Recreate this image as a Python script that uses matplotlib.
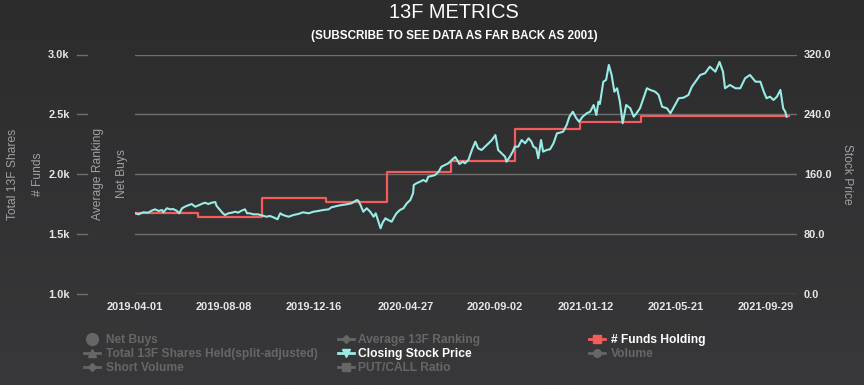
import matplotlib
matplotlib.use("Agg")
import matplotlib.pyplot as plt
import matplotlib.transforms as mtransforms
from matplotlib.lines import Line2D
from matplotlib.colors import LinearSegmentedColormap
import numpy as np
import pandas as pd

plt.rcParams['font.family'] = ['Liberation Sans', 'DejaVu Sans']

# ---------------- data ----------------
title = "13F METRICS"
subtitle = "(SUBSCRIBE TO SEE DATA AS FAR BACK AS 2001)"

start_date = "2019-04-01"
# closing price samples: days after start_date, and price
price_day_offsets = [
    0, 5, 12, 19, 24, 29, 34, 39, 41, 46, 51, 55, 60, 64, 68, 72, 77, 82, 87, 92,
    96, 101, 106, 111, 116, 118, 123, 127, 130, 135, 140, 145, 149, 154, 159, 162,
    166, 171, 178, 186, 190, 195, 200, 206, 210, 214, 222, 229, 236, 243, 251, 258,
    265, 272, 280, 284, 292, 299, 306, 313, 321, 323, 326, 330, 335, 340, 345, 348,
    352, 355, 358, 362, 366, 371, 375, 378, 383, 388, 393, 398, 402, 403, 407, 412,
    417, 421, 424, 429, 434, 439, 443, 448, 453, 458, 463, 469, 474, 477, 482, 487,
    492, 496, 501, 506, 511, 516, 521, 525, 530, 535, 537, 542, 546, 549, 554, 559,
    564, 569, 573, 576, 580, 583, 587, 590, 595, 600, 605, 610, 614, 619, 624, 628,
    633, 638, 642, 647, 653, 658, 663, 667, 670, 672, 677, 681, 685, 689, 693, 697,
    701, 705, 710, 716, 721, 725, 730, 735, 740, 745, 752, 757, 762, 769, 774, 778,
    786, 793, 800, 805, 812, 817, 824, 831, 839, 845, 850, 853, 860, 868, 875, 882,
    889, 897, 904, 909, 913, 918, 923, 928, 933, 937, 940, 942,
]
price_values = [
    107.4, 106.0, 108.7, 108.2, 110.9, 112.7, 110.5, 111.8, 108.7, 114.1, 112.7, 113.1,
    110.9, 107.4, 114.1, 116.2, 118.1, 119.8, 116.2, 118.1, 119.8, 121.6, 119.8, 121.6,
    122.5, 117.2, 111.8, 107.4, 105.1, 107.4, 108.2, 109.5, 108.2, 110.9, 112.7, 107.4,
    107.4, 106.0, 106.0, 103.8, 102.8, 103.8, 102.0, 99.4, 107.4, 105.1, 102.8, 105.1,
    106.5, 108.7, 107.4, 109.5, 110.5, 111.8, 112.7, 115.4, 117.2, 118.5, 119.4, 120.8,
    125.2, 123.9, 118.5, 109.5, 114.1, 109.5, 102.8, 107.4, 96.1, 87.3, 94.8, 100.7,
    98.4, 96.1, 102.8, 107.4, 111.8, 114.1, 120.8, 125.2, 134.2, 145.3, 147.6, 149.7,
    152.0, 149.7, 156.4, 157.3, 158.7, 163.1, 169.8, 172.1, 174.3, 178.8, 182.8, 173.4,
    176.5, 174.3, 178.8, 192.1, 203.3, 194.4, 192.1, 196.6, 201.1, 205.5, 212.2, 192.1,
    187.7, 183.2, 176.5, 183.2, 189.9, 196.6, 196.6, 205.5, 201.1, 207.8, 203.3, 196.6,
    194.4, 181.0, 205.5, 189.9, 192.1, 193.1, 201.1, 214.5, 215.3, 216.7, 225.6, 236.7,
    243.4, 234.6, 230.0, 236.7, 241.3, 243.4, 252.4, 239.0, 256.8, 253.7, 283.6, 285.9,
    306.0, 292.6, 270.2, 274.8, 256.8, 227.9, 252.4, 248.0, 236.7, 241.3, 248.0, 261.4,
    274.8, 272.5, 270.2, 265.8, 250.1, 248.0, 241.3, 248.0, 261.4, 262.2, 265.8, 276.9,
    285.9, 292.6, 294.8, 303.7, 297.0, 310.0, 297.0, 274.8, 279.2, 274.8, 274.8, 288.2,
    292.6, 283.6, 283.6, 270.2, 261.4, 263.5, 259.1, 263.5, 272.5, 248.0, 243.4, 236.7,
]

funds_dates = ["2019-04-01", "2019-07-01", "2019-10-01", "2020-01-02", "2020-03-31",
               "2020-07-01", "2020-10-01", "2021-01-04", "2021-04-01", "2021-11-01"]
funds_values = [1671, 1643, 1797, 1763, 2014, 2111, 2377, 2438, 2485, 2485]

x_tick_dates = ["2019-04-01", "2019-08-08", "2019-12-16", "2020-04-27",
                "2020-09-02", "2021-01-12", "2021-05-21", "2021-09-29"]
x_end_date = "2021-11-13"

left_ticks = [1000, 1500, 2000, 2500, 3000]
left_tick_labels = ["1.0k", "1.5k", "2.0k", "2.5k", "3.0k"]
right_ticks = [0, 80, 160, 240, 320]
right_tick_labels = ["0.0", "80.0", "160.0", "240.0", "320.0"]

left_axis_titles = ["Total 13F Shares", "# Funds", "Average Ranking", "Net Buys"]
right_axis_title = "Stock Price"

# legend entries in reading order (row-wise, 3 per row)
legend_labels = ["Net Buys", "Average 13F Ranking", "# Funds Holding",
                 "Total 13F Shares Held(split-adjusted)", "Closing Stock Price", "Volume",
                 "Short Volume", "PUT/CALL Ratio"]
legend_markers = ["o", "D", "s", "^", "v", "o", "D", "s"]
legend_visible = [False, False, True, False, True, False, False, False]

# ---------------- style ----------------
W, H = 864, 385
BG_TOP = "#2c2c2d"
BG_BOT = "#38383a"
GRID = "#6e6e6e"
TICK_COL = "#e6e6e6"
AXTITLE_COL = "#a0a0a0"
HIDDEN = "#666666"
RED = "#f45b5b"
CYAN = "#98ece6"

fig = plt.figure(figsize=(W / 100, H / 100), dpi=100)

# background gradient
bg = fig.add_axes([0, 0, 1, 1], zorder=-10)
grad = np.linspace(0, 1, 256).reshape(-1, 1)
cmap = LinearSegmentedColormap.from_list("bg", [BG_TOP, BG_BOT])
bg.imshow(grad, aspect="auto", cmap=cmap, extent=[0, 1, 0, 1])
bg.set_axis_off()

def fx(px):
    return px / W

def fy(py):
    return 1 - py / H

ax_left, ax_right, ax_top, ax_bot = 135, 797, 54.5, 293.5
ax = fig.add_axes([fx(ax_left), fy(ax_bot), fx(ax_right - ax_left), (ax_bot - ax_top) / H])
ax.set_facecolor("none")
ax2 = ax.twinx()
ax2.set_facecolor("none")

start = pd.Timestamp(start_date)
price_dates = start + pd.to_timedelta(price_day_offsets, unit="D")
fd = pd.to_datetime(funds_dates)

ax.plot(fd, funds_values, drawstyle="steps-post", color=RED, lw=1.6, zorder=3)
ax2.plot(price_dates, price_values, color=CYAN, lw=1.5, zorder=4)

ax.set_xlim(start, pd.Timestamp(x_end_date))
ax.set_ylim(1000, 3000)
ax2.set_ylim(0, 320)

ax.set_yticks(left_ticks)
ax.set_yticklabels(left_tick_labels)
ax2.set_yticks(right_ticks)
ax2.set_yticklabels(right_tick_labels)
ax.set_xticks(pd.to_datetime(x_tick_dates))
ax.set_xticklabels(x_tick_dates)

for a in (ax, ax2):
    for s in a.spines.values():
        s.set_visible(False)

ax.grid(axis="y", color=GRID, lw=1)
ax.set_axisbelow(True)

ax.tick_params(axis="y", length=0, pad=47, labelcolor=TICK_COL)
ax.tick_params(axis="x", length=0, pad=6, labelcolor=TICK_COL)
ax2.tick_params(axis="y", length=0, pad=5, labelcolor=TICK_COL)
for lab in ax.get_yticklabels() + ax.get_xticklabels() + ax2.get_yticklabels():
    lab.set_fontsize(7.9)
    lab.set_fontweight("bold")

# short tick segments left of the plot area
trans = mtransforms.blended_transform_factory(ax.transAxes, ax.transData)
aw = ax_right - ax_left
for t in left_ticks:
    ax.plot([(77 - ax_left) / aw, (87 - ax_left) / aw], [t, t], color=GRID, lw=1,
            transform=trans, clip_on=False)

# titles
fig.text(fx(454), fy(18.3), title, ha="center", va="baseline", color="white", fontsize=14.4)
fig.text(fx(454.5), fy(39.3), subtitle, ha="center", va="baseline", color="white",
         fontsize=8.35, fontweight="bold")

# axis titles
ycen = fy(174)
for xpos, t in zip([13.5, 38, 98, 121.5], left_axis_titles):
    fig.text(fx(xpos), ycen, t, rotation=90, ha="center", va="center",
             color=AXTITLE_COL, fontsize=8.64)
fig.text(fx(846.5), ycen, right_axis_title, rotation=270, ha="center", va="center",
         color=AXTITLE_COL, fontsize=8.64)

# legend (manual, Highcharts-like)
col_sym = [92, 346, 597]
col_txt = [106, 358, 611]
row_y = [339, 353, 367]
visible_colors = {"# Funds Holding": RED, "Closing Stock Price": CYAN}
for i, (lab, mk, vis) in enumerate(zip(legend_labels, legend_markers, legend_visible)):
    c, r = i % 3, i // 3
    color = visible_colors.get(lab, HIDDEN) if vis else HIDDEN
    cx, cy = col_sym[c], row_y[r]
    if lab == "Net Buys":
        fig.add_artist(Line2D([fx(cx)], [fy(cy)], marker="o", markersize=8.5,
                              color=color, transform=fig.transFigure, lw=0))
    else:
        fig.add_artist(Line2D([fx(cx - 8), fx(cx + 8)], [fy(cy), fy(cy)], color=color,
                              lw=2, transform=fig.transFigure))
        fig.add_artist(Line2D([fx(cx)], [fy(cy)], marker=mk, markersize=5.5 if mk != "D" else 4.5,
                              color=color, transform=fig.transFigure, lw=0))
    fig.text(fx(col_txt[c]), fy(cy + 4.3), lab, ha="left", va="baseline",
             color=("white" if vis else HIDDEN), fontsize=8.64, fontweight="bold")

fig.savefig("out.png", dpi=100)
